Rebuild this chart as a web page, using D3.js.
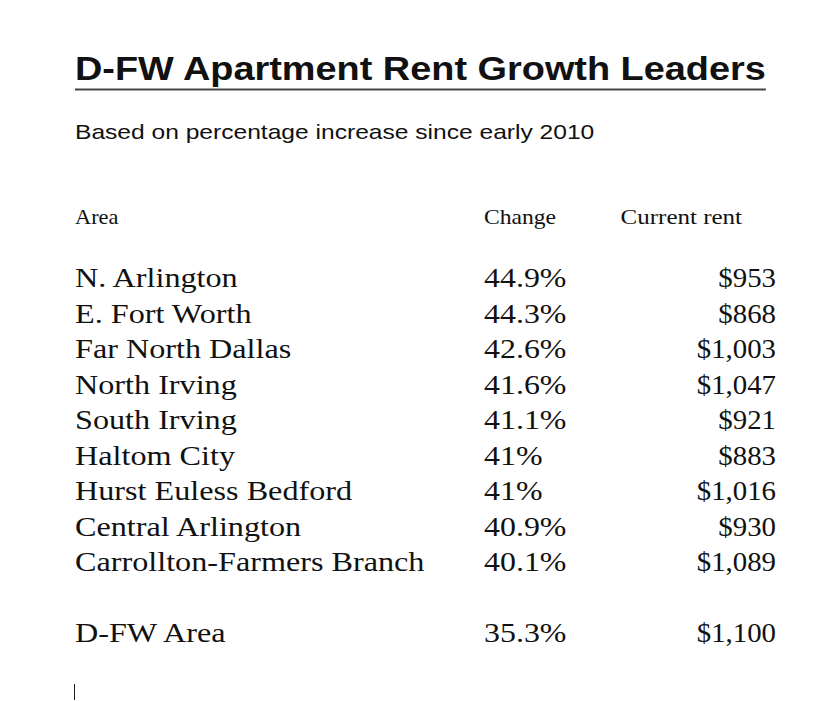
<!DOCTYPE html>
<html>
<head>
<meta charset="utf-8">
<script src="https://cdn.jsdelivr.net/npm/d3@7"></script>
<style>
  html, body { margin: 0; padding: 0; background: #fff; }
</style>
</head>
<body>
<script>
const title = "D-FW Apartment Rent Growth Leaders";
const subtitle = "Based on percentage increase since early 2010";
const headers = ["Area", "Change", "Current rent"];
const areas = ["N. Arlington", "E. Fort Worth", "Far North Dallas", "North Irving", "South Irving",
  "Haltom City", "Hurst Euless Bedford", "Central Arlington", "Carrollton-Farmers Branch"];
const changes = [44.9, 44.3, 42.6, 41.6, 41.1, 41, 41, 40.9, 40.1];
const rents = [953, 868, 1003, 1047, 921, 883, 1016, 930, 1089];
const totalArea = "D-FW Area";
const totalChange = 35.3;
const totalRent = 1100;

const W = 830, H = 701;
const svg = d3.select("body").append("svg").attr("width", W).attr("height", H);

const sans = "'Liberation Sans', Arial, sans-serif";
const serif = "'Liberation Serif', 'Times New Roman', serif";
const ink = "#111";

function txt(x, y, s, opts) {
  const o = Object.assign({ size: 28, family: serif, sx: 1, anchor: "start", weight: "normal" }, opts);
  return svg.append("text")
    .attr("transform", `translate(${x},${y}) scale(${o.sx},1)`)
    .attr("text-anchor", o.anchor)
    .attr("font-family", o.family).attr("font-size", o.size).attr("font-weight", o.weight)
    .attr("fill", ink).text(s);
}

// title
const titleSx = 1.148;
const t = txt(75, 80, title, { family: sans, size: 33, weight: "bold", sx: titleSx });
const tw = t.node().getComputedTextLength() * titleSx;
svg.append("line").attr("x1", 75).attr("x2", 75 + tw).attr("y1", 89.5).attr("y2", 89.5)
  .attr("stroke", "#444").attr("stroke-width", 2);

txt(75, 139, subtitle, { family: sans, size: 20.5, sx: 1.2 });

// headers
txt(75, 224, headers[0], { size: 20, sx: 1.12 });
txt(484, 224, headers[1], { size: 20, sx: 1.18 });
txt(742, 224, headers[2], { size: 20, sx: 1.25, anchor: "end" });

const rows = areas.map((a, i) => ({ area: a, change: changes[i], rent: rents[i] }));
const y = d3.scaleLinear().domain([0, 8]).range([287, 571]);

const fmtRent = d3.format("$,");
const fmtChange = v => v + "%";

function drawRow(d, yy) {
  txt(75, yy, d.area, { sx: 1.15 });
  txt(484, yy, fmtChange(d.change), { sx: 1.14 });
  txt(776, yy, fmtRent(d.rent), { sx: 1.03, anchor: "end" });
}

rows.forEach((d, i) => drawRow(d, y(i)));
drawRow({ area: totalArea, change: totalChange, rent: totalRent }, 642);

// text cursor
svg.append("line").attr("x1", 74.5).attr("x2", 74.5).attr("y1", 684).attr("y2", 700)
  .attr("stroke", "#222").attr("stroke-width", 1);
</script>
</body>
</html>
